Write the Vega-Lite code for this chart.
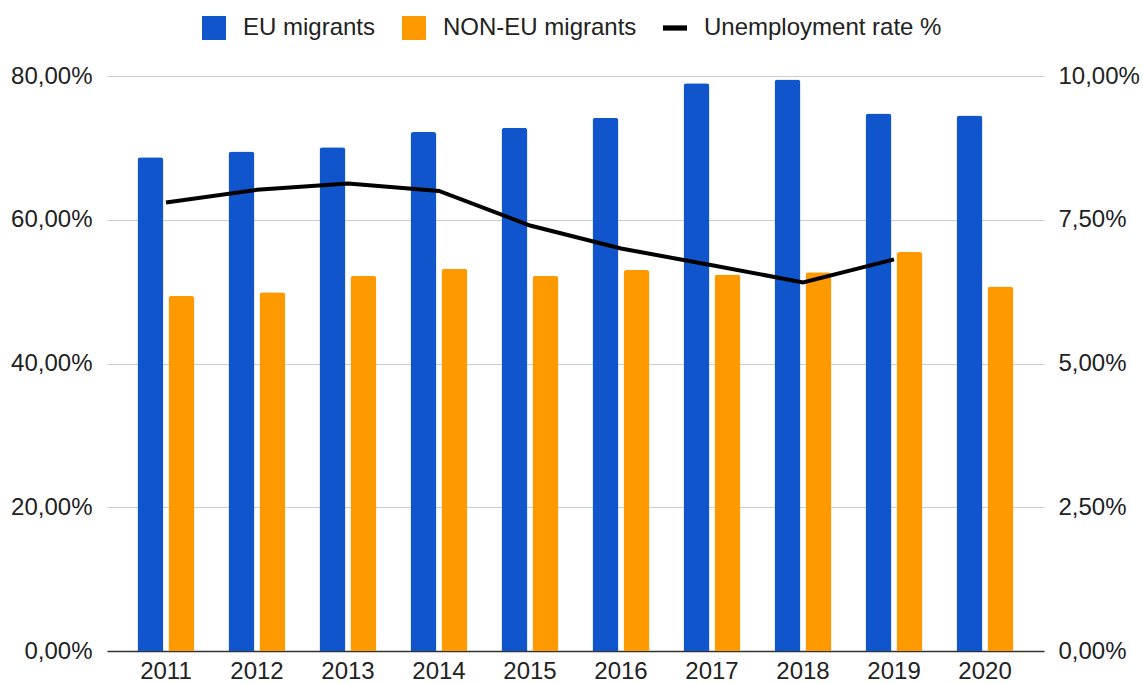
{
  "$schema": "https://vega.github.io/schema/vega-lite/v6.json",
  "width": 937,
  "height": 575,
  "autosize": "none",
  "padding": {"left": 107, "top": 76, "right": 99, "bottom": 32},
  "background": "white",
  "datasets": {
    "bars": [
      {"year": "2011", "series": "EU migrants", "value": 0.687},
      {"year": "2011", "series": "NON-EU migrants", "value": 0.494},
      {"year": "2012", "series": "EU migrants", "value": 0.695},
      {"year": "2012", "series": "NON-EU migrants", "value": 0.499},
      {"year": "2013", "series": "EU migrants", "value": 0.701},
      {"year": "2013", "series": "NON-EU migrants", "value": 0.522},
      {"year": "2014", "series": "EU migrants", "value": 0.722},
      {"year": "2014", "series": "NON-EU migrants", "value": 0.532},
      {"year": "2015", "series": "EU migrants", "value": 0.728},
      {"year": "2015", "series": "NON-EU migrants", "value": 0.522},
      {"year": "2016", "series": "EU migrants", "value": 0.742},
      {"year": "2016", "series": "NON-EU migrants", "value": 0.530},
      {"year": "2017", "series": "EU migrants", "value": 0.790},
      {"year": "2017", "series": "NON-EU migrants", "value": 0.524},
      {"year": "2018", "series": "EU migrants", "value": 0.795},
      {"year": "2018", "series": "NON-EU migrants", "value": 0.527},
      {"year": "2019", "series": "EU migrants", "value": 0.748},
      {"year": "2019", "series": "NON-EU migrants", "value": 0.555},
      {"year": "2020", "series": "EU migrants", "value": 0.745},
      {"year": "2020", "series": "NON-EU migrants", "value": 0.507}
    ],
    "rate": [
      {"year": "2011", "series": "Unemployment rate %", "rate": 0.0780},
      {"year": "2012", "series": "Unemployment rate %", "rate": 0.0802},
      {"year": "2013", "series": "Unemployment rate %", "rate": 0.0813},
      {"year": "2014", "series": "Unemployment rate %", "rate": 0.0800},
      {"year": "2015", "series": "Unemployment rate %", "rate": 0.0740},
      {"year": "2016", "series": "Unemployment rate %", "rate": 0.0700},
      {"year": "2017", "series": "Unemployment rate %", "rate": 0.0671},
      {"year": "2018", "series": "Unemployment rate %", "rate": 0.0641},
      {"year": "2019", "series": "Unemployment rate %", "rate": 0.0681}
    ]
  },
  "config": {
    "view": {"stroke": null},
    "font": "Liberation Sans",
    "axis": {"labelFont": "Liberation Sans", "labelColor": "#222222", "labelFontSize": 24, "ticks": false, "title": null},
    "legend": {"labelFont": "Liberation Sans", "labelLimit": 500}
  },
  "encoding": {
    "x": {
      "field": "year",
      "type": "ordinal",
      "scale": {"type": "band", "paddingInner": 0.374, "paddingOuter": 0.335},
      "axis": {"labelAngle": 0, "labelPadding": 8, "domainColor": "#333333", "domainWidth": 1.5, "grid": false, "ticks": false}
    }
  },
  "layer": [
    {
      "data": {"name": "bars"},
      "mark": {"type": "bar", "cornerRadiusTopLeft": 3, "cornerRadiusTopRight": 3},
      "encoding": {
        "xOffset": {"field": "series", "type": "nominal", "sort": ["EU migrants", "NON-EU migrants"], "scale": {"paddingInner": 0.161, "paddingOuter": 0}},
        "y": {
          "field": "value",
          "type": "quantitative",
          "scale": {"domain": [0, 0.8]},
          "axis": {"orient": "left", "values": [0, 0.2, 0.4, 0.6, 0.8], "labelExpr": "replace(format(datum.value, '.2%'), '.', ',')", "grid": true, "gridColor": "#cccccc", "gridWidth": 1, "domain": false, "ticks": false, "labelPadding": 15}
        },
        "color": {
          "field": "series",
          "type": "nominal",
          "scale": {"domain": ["EU migrants", "NON-EU migrants", "Unemployment rate %"], "range": ["#1155cc", "#ff9900", "#000000"]},
          "legend": {
            "orient": "none",
            "legendX": 95,
            "legendY": -60,
            "direction": "horizontal",
            "title": null,
            "labelFontSize": 24,
            "labelColor": "#222222",
            "labelLimit": 500,
            "symbolSize": 576,
            "labelOffset": 17,
            "columnPadding": 26,
            "padding": 0,
            "symbolType": "square",
            "encode": {
              "symbols": {
                "update": {
                  "shape": {"signal": "datum.value === 'Unemployment rate %' ? 'M-1,-0.22H1V0.22H-1Z' : 'M-1,-1H1V1H-1Z'"},
                  "fill": {"signal": "scale('color', datum.value)"},
                  "stroke": {"value": "transparent"},
                  "strokeWidth": {"value": 0},
                  "opacity": {"value": 1}
                }
              }
            }
          }
        }
      }
    },
    {
      "data": {"name": "rate"},
      "mark": {"type": "line", "strokeWidth": 4},
      "encoding": {
        "y": {
          "field": "rate",
          "type": "quantitative",
          "scale": {"domain": [0, 0.1]},
          "axis": {"orient": "right", "values": [0, 0.025, 0.05, 0.075, 0.1], "labelExpr": "replace(format(datum.value, '.2%'), '.', ',')", "grid": false, "domain": false, "ticks": false, "labelPadding": 14}
        },
        "color": {"field": "series", "type": "nominal"}
      }
    }
  ],
  "resolve": {"scale": {"y": "independent"}}
}
